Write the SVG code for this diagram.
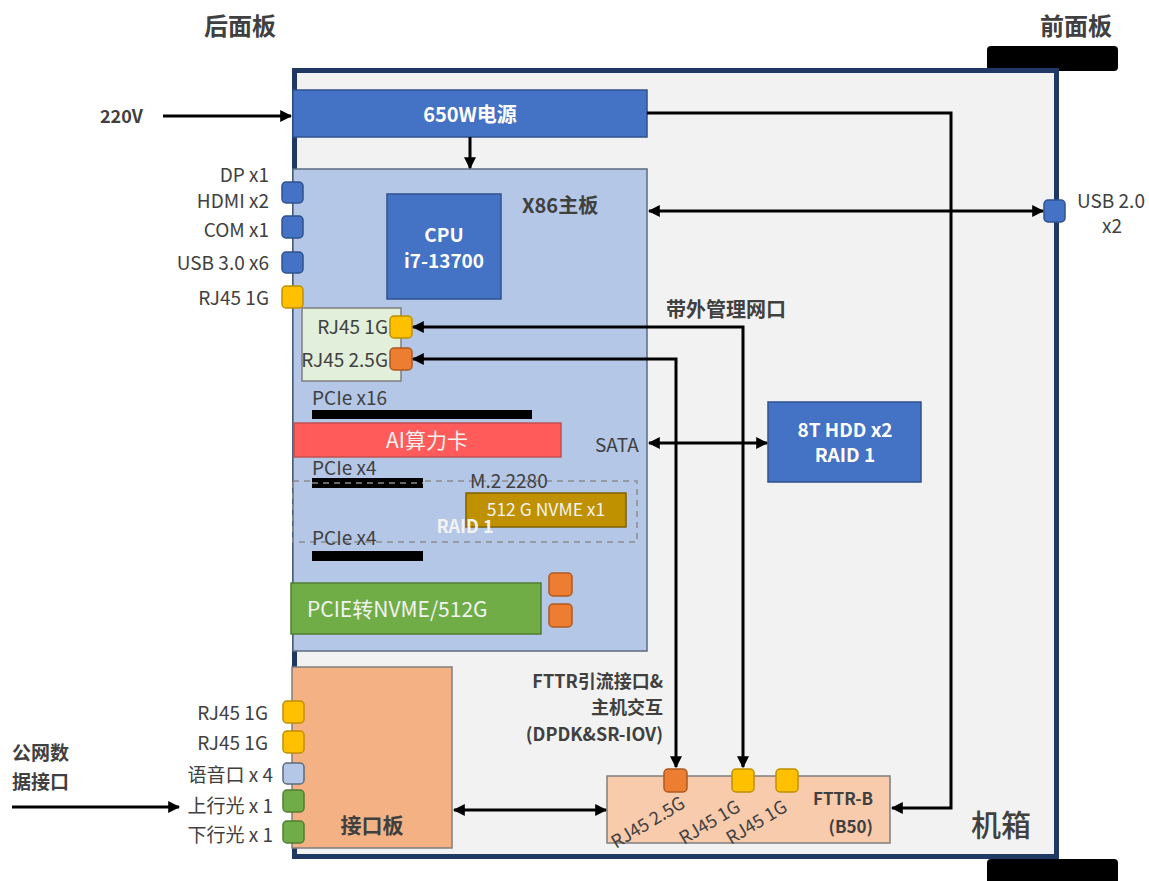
<svg xmlns="http://www.w3.org/2000/svg" width="1149" height="881" viewBox="0 0 1149 881">
<style>
text{font-family:"Noto Sans CJK SC","Noto Sans",sans-serif;fill:#404040}
.b{font-weight:bold}
.w{fill:#ffffff}
.lbl{font-size:19px}
.blue{fill:#4472c4;stroke:#2f528f;stroke-width:1.5}
.port{stroke-width:1.5}
.py{fill:#ffc000;stroke:#bf9000}
.po{fill:#ed7d31;stroke:#ae5a21}
.pb{fill:#4472c4;stroke:#2f528f}
.pl{fill:#b4c7e7;stroke:#5b6b80}
.pg{fill:#70ad47;stroke:#507e32}
.bar{fill:#000000}
.c{fill:none;stroke:#000000;stroke-width:3}
</style>
<defs>
<marker id="ah" viewBox="0 0 10 10" refX="9" refY="5" markerWidth="4" markerHeight="4" orient="auto-start-reverse" markerUnits="strokeWidth">
<path d="M0,0 L10,5 L0,10 z" fill="#000000"/>
</marker>
</defs>
<rect width="1149" height="881" fill="#ffffff"/>

<g id="panel-labels">
<text x="240" y="35" text-anchor="middle" class="b" font-size="24">后面板</text>
<text x="1076" y="35" text-anchor="middle" class="b" font-size="24">前面板</text>
</g>

<g id="chassis">
<rect x="987" y="46" width="131" height="25" rx="4" fill="#000000"/>
<rect x="987" y="859" width="131" height="30" rx="4" fill="#000000"/>
<rect x="294.5" y="70.5" width="762" height="786" fill="#f2f2f2" stroke="#1f3864" stroke-width="5"/>
<text x="1001" y="836" text-anchor="middle" font-size="30" font-weight="500">机箱</text>
</g>

<g id="psu">
<rect x="293" y="90" width="354" height="47" class="blue"/>
<text x="470" y="122" text-anchor="middle" class="b w" font-size="20">650W电源</text>
</g>

<g id="motherboard">
<rect x="293" y="169" width="354" height="482" fill="#b4c7e7" stroke="#5b6b80" stroke-width="1.5"/>
<text x="522" y="213" class="b" font-size="20">X86主板</text>
</g>

<g id="cpu">
<rect x="387" y="194" width="114" height="105" class="blue"/>
<text x="444" y="242" text-anchor="middle" class="b w" font-size="19">CPU</text>
<text x="444" y="268" text-anchor="middle" class="b w" font-size="19">i7-13700</text>
</g>

<g id="rear-ports">
<rect x="282" y="182" width="21" height="21" rx="4" class="port pb"/>
<rect x="282" y="216" width="21" height="22" rx="4" class="port pb"/>
<rect x="282" y="252" width="21" height="21" rx="4" class="port pb"/>
<rect x="282" y="286" width="21" height="22" rx="4" class="port py"/>
<text x="269" y="182" text-anchor="end" class="lbl">DP x1</text>
<text x="269" y="208" text-anchor="end" class="lbl">HDMI x2</text>
<text x="269" y="237" text-anchor="end" class="lbl">COM x1</text>
<text x="269" y="270" text-anchor="end" class="lbl">USB 3.0 x6</text>
<text x="269" y="305" text-anchor="end" class="lbl">RJ45 1G</text>
</g>

<g id="onboard-nic">
<rect x="302" y="308" width="99" height="73" fill="#e2efda" stroke="#7f7f7f" stroke-width="1.5"/>
<text x="388" y="334" text-anchor="end" class="lbl">RJ45 1G</text>
<text x="388" y="367" text-anchor="end" class="lbl">RJ45 2.5G</text>
<rect x="390" y="316" width="22" height="22" rx="4" class="port py"/>
<rect x="390" y="348" width="22" height="22" rx="4" class="port po"/>
</g>

<g id="pcie-x16">
<text x="312" y="405" class="lbl">PCIe x16</text>
<rect x="312" y="410" width="220" height="9" class="bar"/>
</g>

<g id="ai-card">
<rect x="294" y="423" width="267" height="34" fill="#ff5b5b" stroke="#c0504d" stroke-width="1.5"/>
<text x="427" y="448" text-anchor="middle" font-size="21" style="fill:#f2f2f2">AI算力卡</text>
</g>

<g id="m2-raid">
<rect x="293" y="481" width="344" height="61" fill="none" stroke="#8c8c8c" stroke-width="1.5" stroke-dasharray="6,5"/>
<text x="312" y="475" class="lbl">PCIe x4</text>
<rect x="312" y="478" width="111" height="10" class="bar"/>
<line x1="312" y1="483" x2="423" y2="483" stroke="#8c8c8c" stroke-width="1.5" stroke-dasharray="6,5"/>
<text x="470" y="488" class="lbl">M.2 2280</text>
<rect x="466" y="493" width="160" height="34" fill="#bf9000" stroke="#7f6000" stroke-width="1.5"/>
<text x="546" y="516" text-anchor="middle" font-size="17.5" style="fill:#f2f2f2">512 G NVME x1</text>
<text x="465" y="533" text-anchor="middle" class="b" font-size="18" style="fill:#f2f2f2">RAID 1</text>
<text x="312" y="545" class="lbl">PCIe x4</text>
<rect x="312" y="551" width="111" height="10" class="bar"/>
</g>

<g id="pcie-nvme">
<rect x="291" y="583" width="250" height="51" fill="#70ad47" stroke="#507e32" stroke-width="1.5"/>
<text x="307" y="617" font-size="21" style="fill:#f2f2f2">PCIE转NVME/512G</text>
<rect x="549" y="573" width="23" height="23" rx="4" class="port po"/>
<rect x="549" y="604" width="23" height="23" rx="4" class="port po"/>
</g>

<g id="sata-label">
<text x="595" y="452" class="lbl">SATA</text>
</g>

<g id="hdd">
<rect x="768" y="402" width="153" height="80" class="blue"/>
<text x="845" y="437" text-anchor="middle" class="b w" font-size="19">8T HDD x2</text>
<text x="845" y="462" text-anchor="middle" class="b w" font-size="19">RAID 1</text>
</g>

<g id="usb-front">
<rect x="1044" y="200" width="21" height="22" rx="4" class="port pb"/>
<text x="1077" y="208" class="lbl">USB 2.0</text>
<text x="1112" y="233" text-anchor="middle" class="lbl">x2</text>
</g>

<g id="interface-board">
<rect x="292" y="667" width="160" height="181" fill="#f4b183" stroke="#7f7f7f" stroke-width="1.5"/>
<text x="372" y="833" text-anchor="middle" class="b" font-size="21">接口板</text>
<rect x="283" y="701" width="21" height="22" rx="4" class="port py"/>
<rect x="283" y="731" width="21" height="22" rx="4" class="port py"/>
<rect x="283" y="763" width="21" height="21" rx="4" class="port pl"/>
<rect x="283" y="790" width="21" height="22" rx="4" class="port pg"/>
<rect x="283" y="821" width="21" height="22" rx="4" class="port pg"/>
<text x="268" y="720" text-anchor="end" class="lbl">RJ45 1G</text>
<text x="268" y="750" text-anchor="end" class="lbl">RJ45 1G</text>
<text x="273" y="782" text-anchor="end" class="lbl">语音口 x 4</text>
<text x="273" y="813" text-anchor="end" class="lbl">上行光 x 1</text>
<text x="273" y="842" text-anchor="end" class="lbl">下行光 x 1</text>
</g>

<g id="fttr-b">
<rect x="607" y="776" width="283" height="67" fill="#f8cbad" stroke="#7f7f7f" stroke-width="1.5"/>
<rect x="664" y="769" width="23" height="23" rx="4" class="port po"/>
<rect x="732" y="769" width="22" height="23" rx="4" class="port py"/>
<rect x="776" y="769" width="22" height="23" rx="4" class="port py"/>
<text transform="translate(616,849) rotate(-31)" font-size="18">RJ45 2.5G</text>
<text transform="translate(684,845) rotate(-31)" font-size="18">RJ45 1G</text>
<text transform="translate(731,845) rotate(-31)" font-size="18">RJ45 1G</text>
<text x="873" y="805" text-anchor="end" class="b" font-size="17">FTTR-B</text>
<text x="873" y="833" text-anchor="end" class="b" font-size="17">(B50)</text>
</g>

<g id="labels">
<text x="100" y="123" class="b" font-size="18">220V</text>
<text x="666" y="317" class="b" font-size="20">带外管理网口</text>
<text x="663" y="688" text-anchor="end" class="b" font-size="18">FTTR引流接口&amp;</text>
<text x="663" y="714" text-anchor="end" class="b" font-size="18">主机交互</text>
<text x="663" y="741" text-anchor="end" class="b" font-size="18">(DPDK&amp;SR-IOV)</text>
<text x="12" y="760" class="b" font-size="19">公网数</text>
<text x="12" y="789" class="b" font-size="19">据接口</text>
</g>

<g id="connectors">
<line x1="163" y1="116" x2="291" y2="116" class="c" marker-end="url(#ah)"/>
<line x1="470" y1="137" x2="470" y2="168" class="c" marker-end="url(#ah)"/>
<path d="M647,113 H951 V808 H892" class="c" marker-end="url(#ah)"/>
<line x1="649" y1="211" x2="1043" y2="211" class="c" marker-start="url(#ah)" marker-end="url(#ah)"/>
<path d="M743,767 V327 H413" class="c" marker-start="url(#ah)" marker-end="url(#ah)"/>
<path d="M676,767 V359 H413" class="c" marker-start="url(#ah)" marker-end="url(#ah)"/>
<line x1="649" y1="443" x2="767" y2="443" class="c" marker-start="url(#ah)" marker-end="url(#ah)"/>
<line x1="12" y1="807" x2="179" y2="807" class="c" marker-end="url(#ah)"/>
<line x1="454" y1="810" x2="606" y2="810" class="c" marker-start="url(#ah)" marker-end="url(#ah)"/>
</g>
</svg>
